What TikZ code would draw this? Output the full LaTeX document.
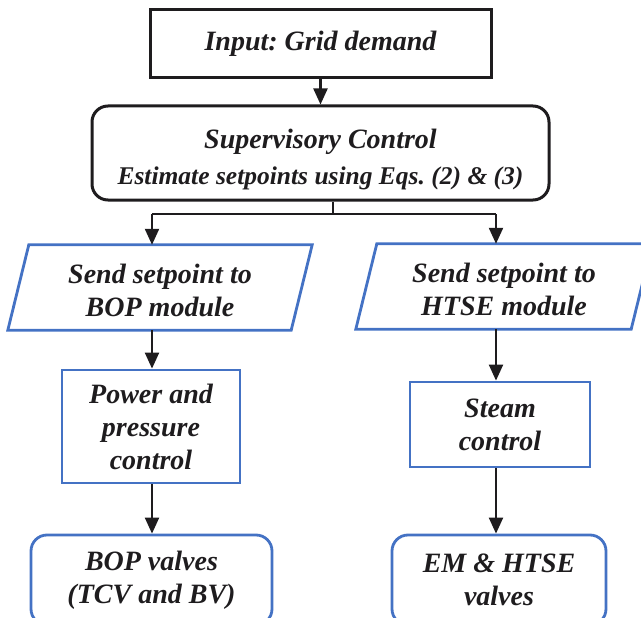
\documentclass[tikz,border=0pt]{standalone}
\usepackage{fontspec}
\setmainfont{Liberation Serif}
\usetikzlibrary{arrows.meta}
\definecolor{boxblue}{RGB}{68,114,196}
\definecolor{inkblack}{RGB}{30,28,30}
\frenchspacing
\begin{document}
\begin{tikzpicture}[x=1pt,y=-1pt,
  lbl/.style={font=\bfseries\itshape\fontsize{28}{33}\selectfont\frenchspacing, align=center, text=inkblack, inner sep=0pt},
  blackbox/.style={lbl, draw=inkblack, line width=3pt},
  bluebox/.style={lbl, draw=boxblue, line width=2.8pt},
  blueline/.style={draw=boxblue, line width=2.8pt, line join=miter},
  arr/.style={draw=inkblack, line width=2.2pt, -{Triangle[length=16pt,width=14pt]}},
  conn/.style={draw=inkblack, line width=2pt}]
\useasboundingbox (0,0) rectangle (641,618);
\clip (0,0) rectangle (641,618);

% top boxes
\node[blackbox, minimum width=341, minimum height=68] (input) at (320.5,44) {Input: Grid demand};
\node[blackbox, rounded corners=16pt, minimum width=457, minimum height=94] (sup) at (320.5,153)
  {\rule{0pt}{33pt}Supervisory Control\\[3pt]{\fontsize{25.5}{30}\selectfont Estimate setpoints using Eqs. (2) \& (3)}};

% parallelograms
\node[lbl, minimum width=304, minimum height=85] (sendbop) at (160,287.5) {\rule{0pt}{26pt}Send setpoint to\\BOP module};
\draw[blueline] ([xshift=21pt]sendbop.north west) -- (sendbop.north east)
  -- ([xshift=-21pt]sendbop.south east) -- (sendbop.south west) -- cycle;
\node[lbl, minimum width=296, minimum height=85] (sendhtse) at (504,286.5) {\rule{0pt}{26pt}Send setpoint to\\HTSE module};
\draw[blueline] ([xshift=21pt]sendhtse.north west) -- (sendhtse.north east)
  -- ([xshift=-21pt]sendhtse.south east) -- (sendhtse.south west) -- cycle;

% middle boxes
\node[bluebox, minimum width=178, minimum height=113] (power) at (151,426.5) {Power and\\pressure\\control};
\node[bluebox, minimum width=180, minimum height=85] (steam) at (500,424.5) {Steam\\control};

% bottom boxes
\node[bluebox, rounded corners=16pt, minimum width=241, minimum height=90] (bopv) at (151.5,580) {BOP valves\\(TCV and BV)};
\node[bluebox, rounded corners=16pt, minimum width=214, minimum height=90] (emv) at (499,580) {EM \& HTSE\\valves};

% connectors
\coordinate (split) at (333,214);
\coordinate (L) at (152,214);
\coordinate (R) at (496,214);
\draw[arr] (input) -- (sup);
\draw[conn] (sup.south -| split) -- (split);
\draw[conn] (L) -- (R);
\draw[arr] (L) -- (sendbop.north -| L);
\draw[arr] (R) -- (sendhtse.north -| R);
\draw[arr] (sendbop.south -| L) -- (power.north -| L);
\draw[arr] (power.south -| L) -- (bopv.north -| L);
\draw[arr] (sendhtse.south -| R) -- (steam.north -| R);
\draw[arr] (steam.south -| R) -- (emv.north -| R);
\end{tikzpicture}
\end{document}
